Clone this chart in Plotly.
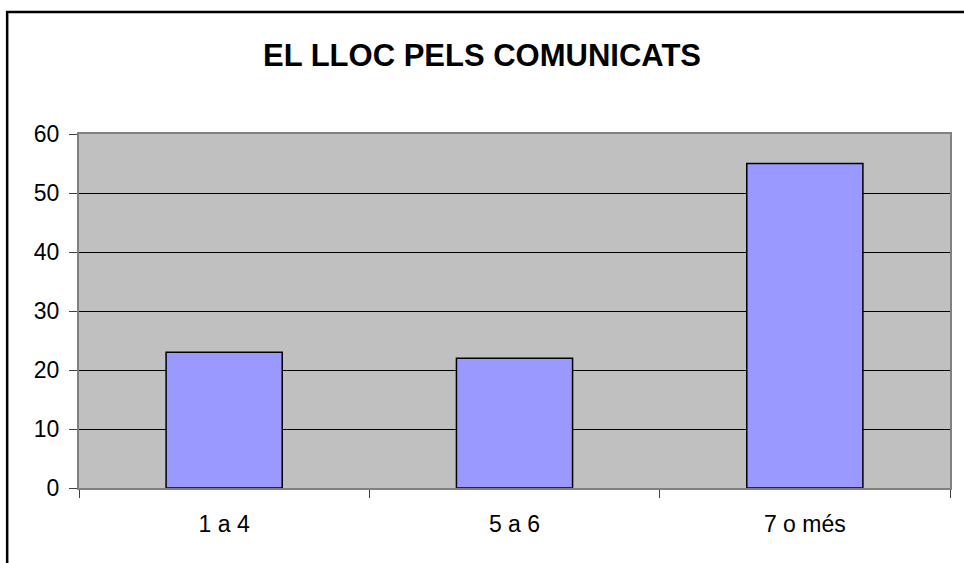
import plotly.graph_objects as go

categories = ["1 a 4", "5 a 6", "7 o més"]
values = [23, 22, 55]
y_ticks = [0, 10, 20, 30, 40, 50, 60]
title_text = "EL LLOC PELS COMUNICATS"

W, H = 964, 563
L, R, T, B = 79, 12, 134, 75
pw, ph = W - L - R, H - T - B
FONT = "Liberation Sans, Arial, sans-serif"

fig = go.Figure(go.Bar(
    x=categories, y=values, width=0.4,
    marker=dict(color="#9999FF", line=dict(color="black", width=1.5)),
    hoverinfo="x+y",
))

fig.update_layout(
    width=W, height=H,
    margin=dict(l=L, r=R, t=T, b=B, pad=0),
    paper_bgcolor="white", plot_bgcolor="#C0C0C0",
    font=dict(family=FONT, size=23, color="black"),
    title=dict(text="<b>" + title_text + "</b>", x=0.5, xanchor="center",
               y=1 - 55 / H, yanchor="middle",
               font=dict(size=31, family=FONT)),
    showlegend=False,
    bargap=0.6,
)
fig.update_xaxes(
    type="category", tickson="boundaries", ticks="outside", ticklen=8,
    tickcolor="#404040", showline=True, linecolor="#808080", linewidth=2,
    mirror=True, showgrid=False, zeroline=False, ticklabelstandoff=14,
)
fig.update_yaxes(
    range=[0, 60], tickvals=y_ticks, ticks="outside", ticklen=8,
    tickcolor="#404040", showline=True, linecolor="#808080", linewidth=2,
    mirror=True, showgrid=True, gridcolor="black", gridwidth=1,
    zeroline=False, ticklabelstandoff=5,
)

# outer chart border (top and left visible, right/bottom cut off)
fig.add_shape(type="rect", xref="paper", yref="paper",
              x0=(7 - L) / pw, x1=1 + 30 / pw,
              y0=-(B + 30) / ph, y1=1 + (T - 12) / ph,
              line=dict(color="black", width=2.5), layer="above")

fig.write_html("out.html", config={"displayModeBar": False},
               post_script="document.body.style.margin='0';document.body.style.overflow='hidden';")
